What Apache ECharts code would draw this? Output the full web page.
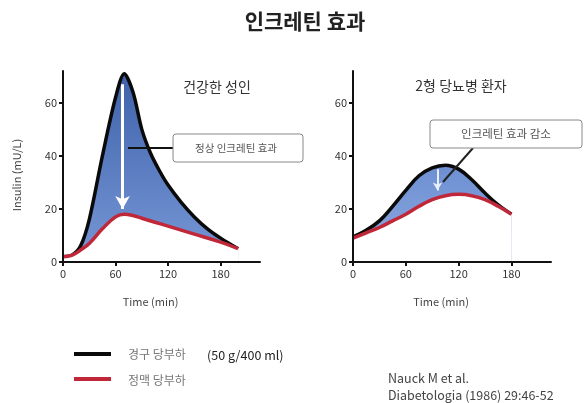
<!DOCTYPE html>
<html><head><meta charset="utf-8">
<script src="https://cdn.jsdelivr.net/npm/echarts@6/dist/echarts.min.js"></script>
<style>html,body{margin:0;padding:0;background:#fff}#c{width:585px;height:403px}</style>
</head><body><div id="c"></div>
<script>
const timesHealthyOral = [0,10,20,30,45,60,70,80,90,100,110,120,135,150,165,180,200];
const healthyOral      = [2,2.5,6,16,40,62,71,64,50,41,34.5,29,22.5,17,12.5,9,5];
const timesHealthyIV   = [0,10,20,30,45,60,70,80,90,105,120,150,180,200];
const healthyIV        = [2,2.5,4.5,7,12.5,17,18,17.5,16.5,15,13.5,10.5,7.5,5];
const timesT2D = [0,15,30,45,60,75,90,105,120,135,150,165,180];
const t2dOral  = [9.5,12,15.5,21,27,32.5,35.5,36.5,35,31,26,21.5,18];
const t2dIV    = [9,11,13,15.5,18,21,23.5,25,25.5,25,23.5,21,18];
const xTicks = [0,60,120,180];
const yTicks = [0,20,40,60];

const font = "'Noto Sans CJK KR','Noto Sans',sans-serif";
const pairs = (xs, ys) => xs.map((x,i)=>[x, ys[i]]);
const chart = echarts.init(document.getElementById('c'));

function xAx(gi){
  return {type:'value', gridIndex:gi, min:0, max:225, z:10,
    name:'Time (min)', nameLocation:'middle', nameGap:34,
    nameTextStyle:{fontSize:11, color:'#444', fontFamily:font, padding:[0,22,0,0]},
    axisLine:{lineStyle:{color:'#111', width:2}},
    axisTick:{customValues:xTicks, length:4, lineStyle:{color:'#111', width:2}},
    axisLabel:{customValues:xTicks, fontSize:11, color:'#333', fontFamily:font, margin:6},
    splitLine:{show:false}};
}
function yAx(gi){
  return {type:'value', gridIndex:gi, min:0, max:72, z:10,
    axisLine:{show:true, lineStyle:{color:'#111', width:2}},
    axisTick:{show:true, customValues:yTicks, length:4, lineStyle:{color:'#111', width:2}},
    axisLabel:{customValues:yTicks, fontSize:11, color:'#333', fontFamily:font, margin:6},
    splitLine:{show:false}};
}
const grad = (a,b)=>new echarts.graphic.LinearGradient(0,0,0,1,[{offset:0,color:a},{offset:1,color:b}]);

chart.setOption({
  animation:false,
  grid:[{left:63, top:71, width:197, height:191},
        {left:353, top:71, width:198, height:191}],
  xAxis:[xAx(0), xAx(1)],
  yAxis:[yAx(0), yAx(1)],
  series:[
    {type:'line', xAxisIndex:0, yAxisIndex:0, smooth:0.3, symbol:'none', z:2,
     data:pairs(timesHealthyOral, healthyOral),
     lineStyle:{color:'#0a0a0a', width:3.5},
     areaStyle:{color:grad('#3f62ab','#7797d6'), opacity:1},
     markLine:{silent:true, symbol:['none','arrow'], symbolSize:[11,13],
       lineStyle:{color:'#ffffff', width:3, type:'solid'}, label:{show:false},
       data:[[{coord:[68,67]},{coord:[68,20]}]]}},
    {type:'line', xAxisIndex:0, yAxisIndex:0, smooth:0.4, symbol:'none', z:3,
     data:pairs(timesHealthyIV, healthyIV),
     lineStyle:{color:'#c0283a', width:3.5},
     areaStyle:{color:'#ffffff', opacity:1}},
    {type:'line', xAxisIndex:1, yAxisIndex:1, smooth:0.4, symbol:'none', z:2,
     data:pairs(timesT2D, t2dOral),
     lineStyle:{color:'#0a0a0a', width:3.5},
     areaStyle:{color:grad('#6d8fd2','#8eaae0'), opacity:1},
     markLine:{silent:true, symbol:['none','arrow'], symbolSize:[7,8],
       lineStyle:{color:'#e8eefa', width:2, type:'solid'}, label:{show:false},
       data:[[{coord:[96,35]},{coord:[96,27]}]]}},
    {type:'line', xAxisIndex:1, yAxisIndex:1, smooth:0.4, symbol:'none', z:3,
     data:pairs(timesT2D, t2dIV),
     lineStyle:{color:'#c0283a', width:3.5},
     areaStyle:{color:'#ffffff', opacity:1}}
  ],
  graphic:[
    {type:'text', z:20, x:305, y:21, style:{text:'인크레틴 효과', fontSize:21, fontWeight:'bold', fill:'#222', fontFamily:font, align:'center', verticalAlign:'middle'}},
    {type:'text', z:20, x:17, y:175, rotation:Math.PI/2, style:{text:'Insulin (mU/L)', fontSize:11, fill:'#444', fontFamily:font, align:'center', verticalAlign:'middle'}},
    {type:'text', z:20, x:217, y:87, style:{text:'건강한 성인', fontSize:14, fill:'#333', fontFamily:font, align:'center', verticalAlign:'middle'}},
    {type:'text', z:20, x:461, y:86, style:{text:'2형 당뇨병 환자', fontSize:14, fill:'#333', fontFamily:font, align:'center', verticalAlign:'middle'}},
    {type:'line', z:20, shape:{x1:128,y1:148,x2:173,y2:148}, style:{stroke:'#111', lineWidth:2}},
    {type:'rect', z:20, shape:{x:173,y:134,width:130,height:28,r:3}, style:{fill:'#fff', stroke:'#888', lineWidth:1}},
    {type:'text', z:21, x:236, y:148, style:{text:'정상 인크레틴 효과', fontSize:10.5, fill:'#555', fontFamily:font, align:'center', verticalAlign:'middle'}},
    {type:'line', z:20, shape:{x1:473,y1:148,x2:443,y2:182}, style:{stroke:'#222', lineWidth:2}},
    {type:'rect', z:20, shape:{x:430,y:120,width:152,height:28,r:3}, style:{fill:'#fff', stroke:'#888', lineWidth:1}},
    {type:'text', z:21, x:506, y:134, style:{text:'인크레틴 효과 감소', fontSize:11.5, fill:'#555', fontFamily:font, align:'center', verticalAlign:'middle'}},
    {type:'line', z:20, shape:{x1:74,y1:354,x2:111,y2:354}, style:{stroke:'#0a0a0a', lineWidth:4}},
    {type:'text', z:20, x:128, y:354, style:{text:'경구 당부하', fontSize:12, fill:'#777', fontFamily:font, verticalAlign:'middle'}},
    {type:'text', z:20, x:207, y:355, style:{text:'(50 g/400 ml)', fontSize:12.5, fill:'#222', fontFamily:font, verticalAlign:'middle'}},
    {type:'line', z:20, shape:{x1:74,y1:379,x2:111,y2:379}, style:{stroke:'#c0283a', lineWidth:4}},
    {type:'text', z:20, x:128, y:380, style:{text:'정맥 당부하', fontSize:12, fill:'#777', fontFamily:font, verticalAlign:'middle'}},
    {type:'text', z:20, x:388, y:378, style:{text:'Nauck M et al.', fontSize:12.5, fill:'#444', fontFamily:font, verticalAlign:'middle'}},
    {type:'text', z:20, x:388, y:395, style:{text:'Diabetologia (1986) 29:46-52', fontSize:12.5, fill:'#444', fontFamily:font, verticalAlign:'middle'}}
  ]
});
</script></body></html>
